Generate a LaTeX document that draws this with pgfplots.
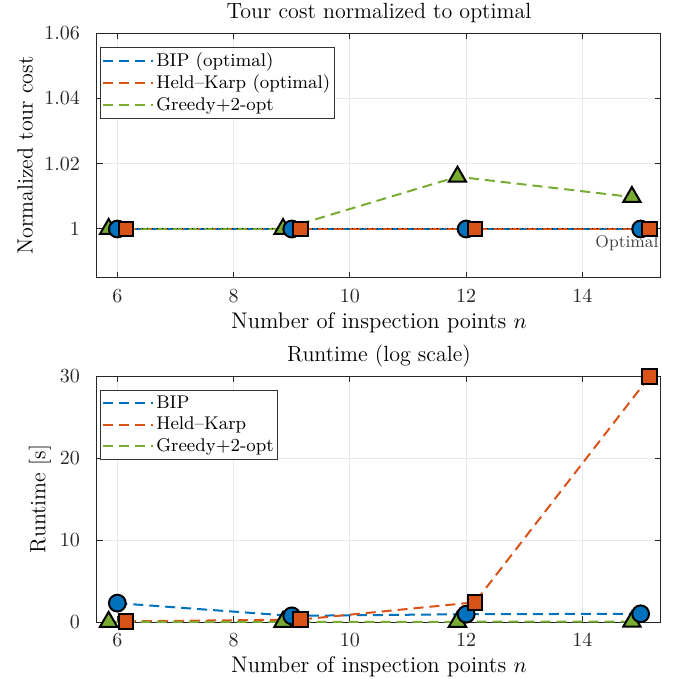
\documentclass[border=0pt]{standalone}
\usepackage{pgfplots}
\pgfplotsset{compat=1.18}

\definecolor{cBIP}{rgb}{0,0.447,0.741}
\definecolor{cHK}{rgb}{0.85,0.325,0.098}
\definecolor{cGR}{rgb}{0.466,0.674,0.188}

\pgfplotsset{
  panel/.style={
    scale only axis, width=282pt,
    xmin=5.65, xmax=15.35, xtick={6,8,...,14},
    grid=major, major grid style={gray!18, line width=0.5pt},
    axis line style={black!85, line width=0.5pt},
    tick style={black!85, line width=0.5pt},
    tick align=inside, tick pos=both, major tick length=3pt,
    xticklabel pos=lower, yticklabel pos=left,
    ticklabel style={font=\fontsize{10}{12}\selectfont, text=black!85},
    xticklabel style={yshift=-2.5pt},
    yticklabel style={xshift=-5pt},
    every axis title/.style={at={([yshift=10pt]rel axis cs:0.5,1)},
      anchor=center, font=\fontsize{11}{13}\selectfont},
    every axis x label/.style={at={([yshift=-22.5pt]rel axis cs:0.5,0)},
      anchor=center, font=\fontsize{11.3}{13}\selectfont},
    xlabel={Number of inspection points $n$},
    legend style={at={(0.005,0.943)}, anchor=north west, draw=black!80,
      fill=white, font=\fontsize{9.2}{11}\selectfont, line width=0.5pt,
      inner xsep=1pt, inner ysep=0.5pt, row sep=-1.2pt,
      nodes={inner xsep=1pt}},
    legend cell align=left,
    legend image code/.code={\draw[#1] (0pt,0pt) -- (25pt,0pt);},
  },
  dline/.style={line width=1pt, dash pattern=on 5pt off 3pt},
  mtri/.style={only marks, forget plot, mark=triangle*, mark size=5pt,
    mark options={solid, draw=black, fill=cGR, line width=1pt}},
  mcir/.style={only marks, forget plot, mark=*, mark size=4.2pt,
    mark options={solid, draw=black, fill=cBIP, line width=1pt}},
  msq/.style={only marks, forget plot, mark=square*, mark size=3.7pt,
    mark options={solid, draw=black, fill=cHK, line width=1pt}},
}

\begin{document}
\begin{tikzpicture}
\useasboundingbox (0,0) rectangle (340.5pt,-339.5pt);

% tour cost
\begin{axis}[panel, at={(48.5pt,-139pt)}, anchor=south west,
  height=122.5pt, ymin=0.985, ymax=1.06, ytick={1,1.02,1.04,1.06},
  title={Tour cost normalized to optimal},
  every axis y label/.style={at={([xshift=-36pt]rel axis cs:0,0.5)},
    rotate=90, anchor=center, font=\fontsize{11}{13}\selectfont},
  ylabel={Normalized tour cost}]
  \addplot[cBIP, dline] coordinates {(6,1) (9,1) (12,1) (15,1)};
  \addlegendentry{BIP (optimal)}
  \addplot[cHK, dline] coordinates {(6.15,1) (9.15,1) (12.15,1) (15.15,1)};
  \addlegendentry{Held--Karp (optimal)}
  \addplot[cGR, dline] coordinates {(5.85,1) (8.85,1) (11.85,1.016) (14.85,1.0098)};
  \addlegendentry{Greedy+2-opt}
  \addplot[black, line width=0.5pt, dotted, forget plot] coordinates {(5.65,1) (15.35,1)};
  \addplot[mtri] coordinates {(5.85,1) (8.85,1) (11.85,1.016) (14.85,1.0098)};
  \addplot[mcir] coordinates {(6,1) (9,1) (12,1) (15,1)};
  \addplot[msq] coordinates {(6.15,1) (9.15,1) (12.15,1) (15.15,1)};
  \node[anchor=north east, inner sep=1pt, text=black!75,
    font=\fontsize{8.5}{10}\selectfont] at (rel axis cs:1,0.185) {Optimal};
\end{axis}

% runtime
\begin{axis}[panel, at={(48.5pt,-311pt)}, anchor=south west,
  height=123pt, ymin=0, ymax=30, ytick={0,10,20,30},
  title={Runtime (log scale)},
  every axis y label/.style={at={([xshift=-28.5pt]rel axis cs:0,0.5)},
    rotate=90, anchor=center, font=\fontsize{11}{13}\selectfont},
  ylabel={Runtime [s]}]
  \addplot[cBIP, dline] coordinates {(6,2.3) (9,0.75) (12,0.95) (15,1.0)};
  \addlegendentry{BIP}
  \addplot[cHK, dline] coordinates {(6.15,0.08) (9.15,0.3) (12.15,2.4) (15.15,29.9)};
  \addlegendentry{Held--Karp}
  \addplot[cGR, dline] coordinates {(5.85,0.02) (8.85,0.02) (11.85,0.03) (14.85,0.04)};
  \addlegendentry{Greedy+2-opt}
  \addplot[mtri] coordinates {(5.85,0.02) (8.85,0.02) (11.85,0.03) (14.85,0.04)};
  \addplot[mcir] coordinates {(6,2.3) (9,0.75) (12,0.95) (15,1.0)};
  \addplot[msq] coordinates {(6.15,0.08) (9.15,0.3) (12.15,2.4) (15.15,29.9)};
\end{axis}
\end{tikzpicture}
\end{document}
